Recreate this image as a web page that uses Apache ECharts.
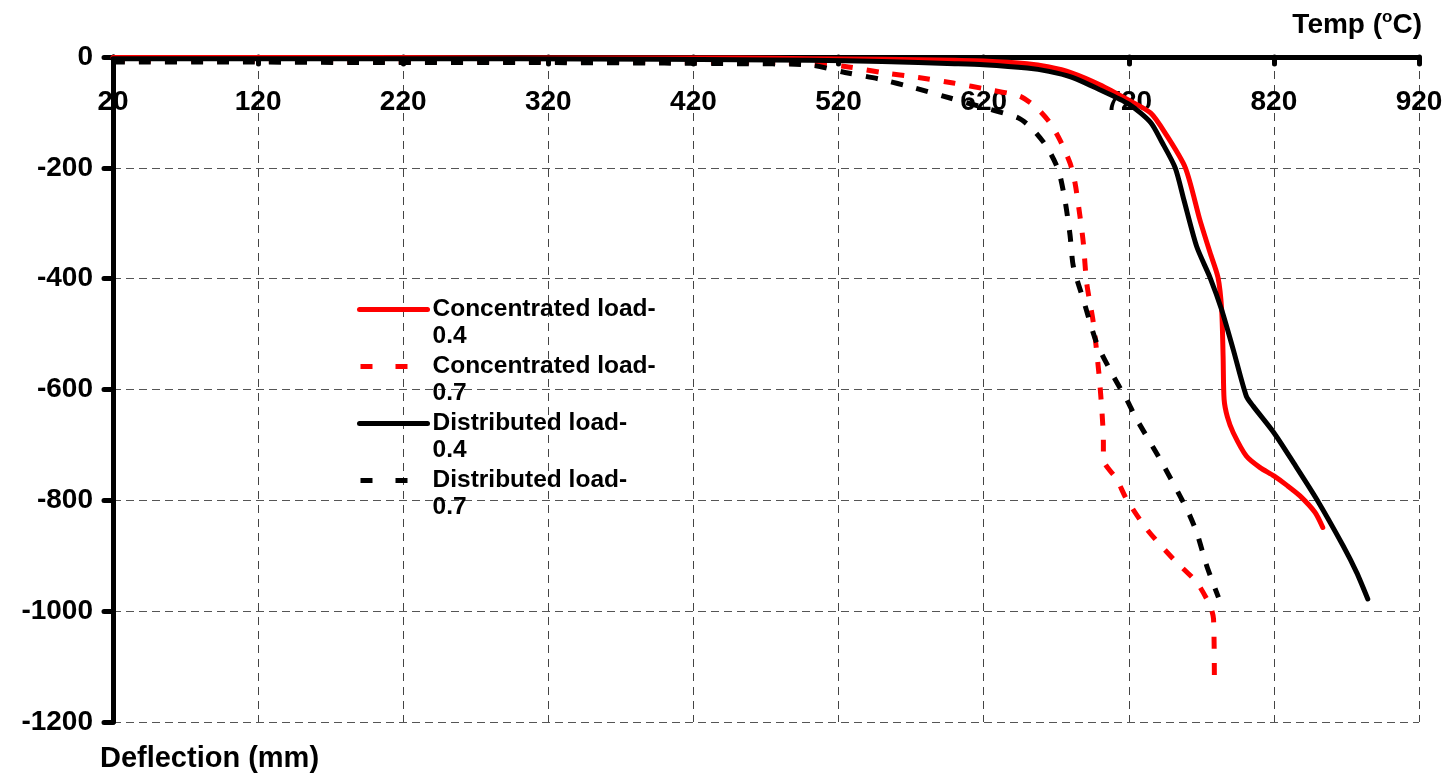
<!DOCTYPE html>
<html>
<head>
<meta charset="utf-8">
<script src="https://cdn.jsdelivr.net/npm/echarts@6/dist/echarts.min.js"></script>
<style>
  html, body { margin: 0; padding: 0; background: #ffffff; }
  #chart { width: 1448px; height: 773px; }
</style>
</head>
<body>
<div id="chart"></div>
<script>
// Temperature (°C) against mid-span deflection (mm) for four load cases
const xTicks = [20, 120, 220, 320, 420, 520, 620, 720, 820, 920];
const yTicks = [0, -200, -400, -600, -800, -1000, -1200];

const seriesNames = [
  'Concentrated load-0.4',
  'Concentrated load-0.7',
  'Distributed load-0.4',
  'Distributed load-0.7'
];

const concLoad04Temp = [20, 100, 200, 300, 400, 450, 500, 550, 600, 620, 650, 665, 680, 700, 720, 735, 745, 759, 769, 776, 781.5, 784, 785, 785.7, 788, 792, 801, 810.5, 820, 829, 838, 848.4, 853.7];
const concLoad04Defl = [-1, -1, -1, -2, -2, -2, -3, -4, -6, -7, -12, -18, -28, -50, -78, -101, -137, -200, -294, -353, -398, -456, -540, -618, -650, -678, -720, -741, -756, -773, -792, -822, -849];

const concLoad07Temp = [20, 100, 200, 300, 400, 480, 500, 524.5, 549.7, 575, 599, 624, 645, 656.6, 665.8, 672.6, 679.6, 683, 686.4, 688.7, 691, 695.6, 700, 702.5, 702.5, 711.7, 718.5, 732.4, 750.7, 766.8, 776, 778.4, 779];
const concLoad07Defl = [-7, -7, -8, -8, -9, -10, -12, -17, -28, -37, -47, -59, -71, -92, -119, -150, -192, -228, -288, -336, -408, -480, -588, -696, -726, -762, -798, -852, -906, -948, -990, -1014, -1140];

const distLoad04Temp = [20, 200, 400, 500, 550, 600, 620, 650, 665, 680, 700, 720, 735, 742.7, 752, 758, 766.8, 776, 784, 792, 801, 805.7, 820, 833.5, 849.5, 867.7, 877, 884.7];
const distLoad04Defl = [-3, -3, -4, -6, -8, -12, -14, -20, -26, -36, -59, -85, -118, -153, -200, -258, -342, -398, -456, -528, -612, -630, -678, -732, -798, -882, -930, -978];

const distLoad07Temp = [20, 100, 200, 300, 400, 450, 499, 524.5, 548.6, 572.7, 596.8, 621, 644, 654, 663.5, 671.5, 676, 679.5, 681.8, 688.7, 697.9, 709.4, 718.5, 725.5, 741.6, 760, 766.8, 773.7, 781.8];
const distLoad07Defl = [-9, -9, -10, -10, -11, -12, -14, -28, -40, -56, -74, -92, -110, -131, -162, -204, -258, -321, -378, -438, -516, -576, -618, -654, -726, -816, -858, -918, -975];

function pairs(xs, ys) {
  return xs.map((x, i) => [x, ys[i]]);
}

const FONT = 'Liberation Sans, Arial, sans-serif';
const RED = '#ff0000';
const BLACK = '#000000';

const seriesStyles = [
  { color: RED, dashed: false },
  { color: RED, dashed: true },
  { color: BLACK, dashed: false },
  { color: BLACK, dashed: true }
];
const seriesData = [
  pairs(concLoad04Temp, concLoad04Defl),
  pairs(concLoad07Temp, concLoad07Defl),
  pairs(distLoad04Temp, distLoad04Defl),
  pairs(distLoad07Temp, distLoad07Defl)
];

const series = seriesNames.map((name, i) => ({
  name: name,
  type: 'line',
  data: seriesData[i],
  showSymbol: false,
  symbol: 'none',
  smooth: 0.25,
  animation: false,
  lineStyle: {
    color: seriesStyles[i].color,
    width: 5,
    type: seriesStyles[i].dashed ? [12, 14] : 'solid',
    cap: seriesStyles[i].dashed ? 'butt' : 'round',
    join: 'round'
  },
  itemStyle: { color: seriesStyles[i].color }
}));

// legend keys: plain line strokes, no point marker
const legendData = seriesNames.map((name, i) => ({
  name: name,
  itemStyle: { opacity: 0 },
  lineStyle: seriesStyles[i].dashed
    ? { type: [12, 23], dashOffset: -1, width: 5, cap: 'butt', opacity: 1 }
    : { width: 5, cap: 'round', opacity: 1 }
}));

const chart = echarts.init(document.getElementById('chart'), null, { renderer: 'canvas' });

chart.setOption({
  backgroundColor: '#ffffff',
  animation: false,
  textStyle: { fontFamily: FONT },
  grid: { left: 113, right: 29, top: 57, bottom: 50, containLabel: false },
  legend: {
    data: legendData,
    orient: 'vertical',
    left: 357,
    top: 269,
    padding: 0,
    itemWidth: 68,
    itemHeight: 10,
    itemGap: -24,
    itemStyle: { opacity: 0 },
    // the name wraps after the hyphen; a leading empty line keeps the key
    // level with the first line of text
    formatter: function (name) {
      const cut = name.lastIndexOf('-');
      return ' \n' + name.slice(0, cut + 1) + '\n' + name.slice(cut + 1);
    },
    textStyle: {
      fontFamily: FONT,
      fontWeight: 'bold',
      fontSize: 24.5,
      color: '#000',
      lineHeight: 27
    }
  },
  xAxis: {
    type: 'value',
    position: 'top',
    min: xTicks[0],
    max: xTicks[xTicks.length - 1],
    interval: xTicks[1] - xTicks[0],
    name: 'Temp ({sup|o}C)',
    nameLocation: 'end',
    nameGap: 3,
    nameTextStyle: {
      align: 'right',
      verticalAlign: 'bottom',
      fontFamily: FONT,
      fontWeight: 'bold',
      fontSize: 28,
      color: '#000',
      padding: [0, 0, 15, 0],
      rich: {
        sup: { fontFamily: FONT, fontWeight: 'bold', fontSize: 17, verticalAlign: 'top', padding: [0, 0, 16, 0], color: '#000' }
      }
    },
    axisLine: { show: true, onZero: false, lineStyle: { color: '#000', width: 5, cap: 'round' } },
    axisTick: { show: true, inside: true, length: 7, lineStyle: { color: '#000', width: 5, cap: 'round' } },
    axisLabel: {
      inside: true,
      margin: 31,
      fontFamily: FONT,
      fontWeight: 'bold',
      fontSize: 28,
      color: '#000'
    },
    splitLine: { show: true, lineStyle: { color: '#444', width: 1, type: [8, 6] } }
  },
  yAxis: {
    type: 'value',
    min: yTicks[yTicks.length - 1],
    max: yTicks[0],
    interval: yTicks[0] - yTicks[1],
    name: 'Deflection (mm)',
    nameLocation: 'start',
    nameGap: 22,
    nameTextStyle: {
      align: 'center',
      verticalAlign: 'top',
      fontFamily: FONT,
      fontWeight: 'bold',
      fontSize: 29,
      color: '#000',
      padding: [0, 0, 0, 193]
    },
    axisLine: { show: true, lineStyle: { color: '#000', width: 5, cap: 'round' } },
    axisTick: { show: true, inside: false, length: 9, lineStyle: { color: '#000', width: 5, cap: 'round' } },
    axisLabel: {
      margin: 20,
      fontFamily: FONT,
      fontWeight: 'bold',
      fontSize: 28,
      color: '#000',
      formatter: function (v) { return String(v); }
    },
    splitLine: { show: true, lineStyle: { color: '#555', width: 1.2, type: [8, 5] } }
  },
  series: series
});
</script>
</body>
</html>
